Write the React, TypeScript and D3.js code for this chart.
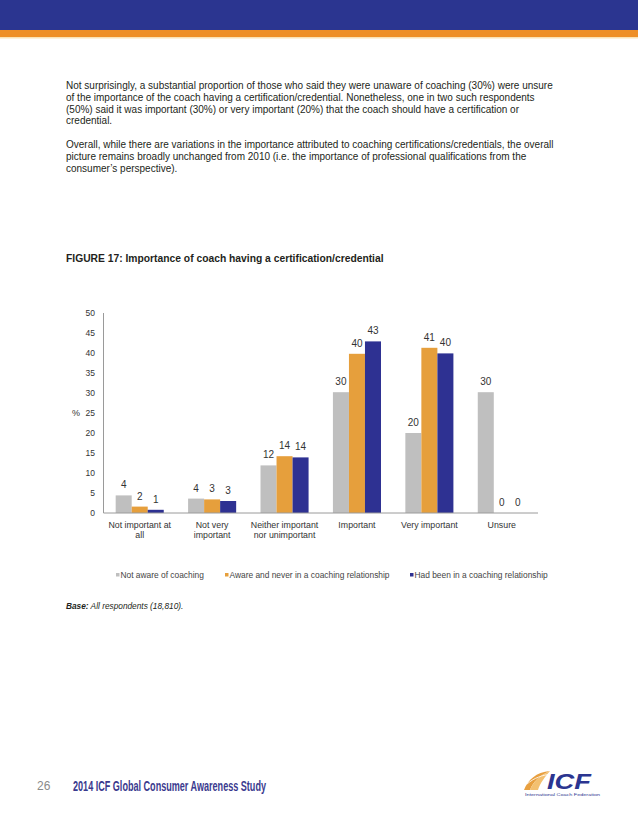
import React from "react";
import * as d3 from "d3";

const categories = ["Not important at\nall", "Not very\nimportant", "Neither important\nnor unimportant", "Important", "Very important", "Unsure"];
const seriesNames = ["Not aware of coaching", "Aware and never in a coaching relationship", "Had been in a coaching relationship"];
const notAware = [4.4, 3.6, 11.9, 30.2, 20, 30.2];
const awareNever = [1.6, 3.4, 14.2, 39.8, 41.3, 0];
const hadBeen = [0.8, 3, 13.9, 42.9, 39.9, 0];
const yTicks = [0, 5, 10, 15, 20, 25, 30, 35, 40, 45, 50];
const colors = ["#bfbfbf", "#e69f3c", "#2e3192"];

const para1 = [
  "Not surprisingly, a substantial proportion of those who said they were unaware of coaching (30%) were unsure",
  "of the importance of the coach having a certification/credential. Nonetheless, one in two such respondents",
  "(50%) said it was important (30%) or very important (20%) that the coach should have a certification or",
  "credential.",
];
const para2 = [
  "Overall, while there are variations in the importance attributed to coaching certifications/credentials, the overall",
  "picture remains broadly unchanged from 2010 (i.e. the importance of professional qualifications from the",
  "consumer\u2019s perspective).",
];

const FONT = "'Liberation Sans', Arial, sans-serif";

export default function App() {
  const seriesValues = [notAware, awareNever, hadBeen];
  const left = 103.5, right = 538, top = 313, bottom = 513;
  const x0 = d3.scaleBand<string>().domain(categories).range([left, right]).padding(0);
  const x1 = d3.scaleBand<string>().domain(seriesNames).range([0, x0.bandwidth()]).paddingInner(0).paddingOuter(0.76);
  const y = d3.scaleLinear().domain([0, 50]).range([bottom, top]);

  const legendX = [116, 225, 410];

  return (
    <svg width={638} height={826} style={{ position: "absolute", left: 0, top: 0, background: "#fff" }} fontFamily={FONT}>
      <rect x={0} y={0} width={638} height={30} fill="#2b3590" />
      <rect x={0} y={30} width={638} height={7} fill="#ee8f27" />
      <rect x={0} y={37} width={638} height={1.5} fill="#fbe3b5" />

      {para1.map((t, i) => (
        <text key={"p1" + i} x={66} y={89 + i * 11.8} fontSize={10} fill="#231f20">{t}</text>
      ))}
      {para2.map((t, i) => (
        <text key={"p2" + i} x={66} y={148 + i * 11.8} fontSize={10} fill="#231f20">{t}</text>
      ))}

      <text x={66} y={261.5} fontSize={10.3} fontWeight="bold" fill="#231f20">FIGURE 17: Importance of coach having a certification/credential</text>

      {/* y axis */}
      <line x1={left} x2={left} y1={top} y2={bottom} stroke="#9a9a9a" strokeWidth={1} />
      {yTicks.map((t) => (
        <text key={"yt" + t} x={95} y={y(t) + 3} fontSize={8.5} textAnchor="end" fill="#333">{t}</text>
      ))}
      <text x={72} y={416} fontSize={9} fill="#333">%</text>

      {/* bars */}
      {categories.map((c, ci) => (
        <g key={"g" + ci} transform={`translate(${x0(c)},0)`}>
          {seriesNames.map((s, si) => {
            const v = seriesValues[si][ci];
            const bx = x1(s)!;
            return (
              <g key={s}>
                <rect x={bx} y={y(v)} width={x1.bandwidth()} height={bottom - y(v)} fill={colors[si]} />
                <text x={bx + x1.bandwidth() / 2} y={y(v) - 7} fontSize={10} textAnchor="middle" fill="#333">{Math.round(v)}</text>
              </g>
            );
          })}
        </g>
      ))}
      <line x1={left} x2={right} y1={bottom} y2={bottom} stroke="#9a9a9a" strokeWidth={1} />

      {/* category labels */}
      {categories.map((c, ci) => (
        <text key={"cl" + ci} fontSize={8.8} textAnchor="middle" fill="#333">
          {c.split("\n").map((line, li) => (
            <tspan key={li} x={x0(c)! + x0.bandwidth() / 2} y={528 + li * 10}>{line}</tspan>
          ))}
        </text>
      ))}

      {/* legend */}
      {seriesNames.map((s, si) => (
        <g key={"lg" + si}>
          <rect x={legendX[si]} y={573} width={3.5} height={3.5} fill={colors[si]} />
          <text x={legendX[si] + 4.5} y={578} fontSize={8.4} fill="#444">{s}</text>
        </g>
      ))}

      <text x={66} y={609} fontSize={8.3} fontStyle="italic" fill="#231f20">
        <tspan fontWeight="bold">Base:</tspan> All respondents (18,810).
      </text>

      {/* footer */}
      <text x={37} y={790} fontSize={12} fill="#8a8a8a">26</text>
      <text x={73} y={791} fontSize={14} fontWeight="bold" fill="#3a3a8e" textLength={193} lengthAdjust="spacingAndGlyphs">2014 ICF Global Consumer Awareness Study</text>

      {/* logo */}
      <g>
        <path d="M524,790 C528,780 536,772 550,771 C540,775 533,782 530,790 Z" fill="#e8a040" />
        <path d="M530,790 C533,782 540,775 550,771 C545,777 540,783 538,790 Z" fill="#f3c070" />
        <path d="M527,784 C534,778 542,775 552,774" stroke="#fff" strokeWidth={0.8} fill="none" />
        <text x={547} y={789} fontSize={22} fontWeight="bold" fontStyle="italic" fill="#2b3590" textLength={44} lengthAdjust="spacingAndGlyphs">ICF</text>
        <text x={525} y={795.5} fontSize={3.6} fill="#2b3590" textLength={75} lengthAdjust="spacingAndGlyphs">International Coach Federation</text>
      </g>
    </svg>
  );
}
